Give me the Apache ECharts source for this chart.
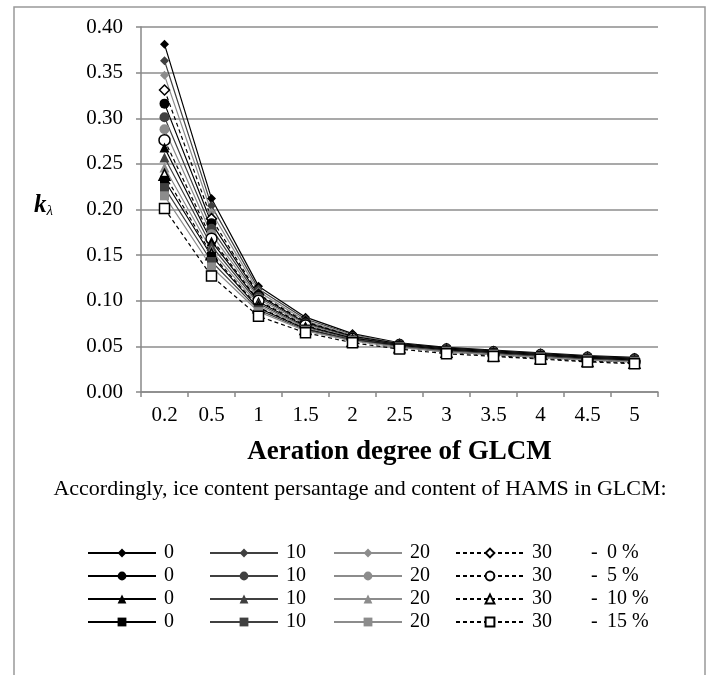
<!DOCTYPE html>
<html>
<head>
<meta charset="utf-8">
<script src="https://cdn.jsdelivr.net/npm/echarts@6/dist/echarts.min.js"></script>
<style>
  html, body { margin: 0; padding: 0; background: #fff; }
  #chart { width: 709px; height: 675px; }
</style>
</head>
<body>
<div id="chart"></div>
<script>
// categories on the x axis (aeration degree)
const categories = ['0.2', '0.5', '1', '1.5', '2', '2.5', '3', '3.5', '4', '4.5', '5'];
const iceLevels = ['0', '10', '20', '30'];
const hamsLevels = ['0 %', '5 %', '10 %', '15 %'];

// HAMS 0 % (diamond)
const ice0_h0  = [0.381, 0.212, 0.116, 0.082, 0.064, 0.054, 0.049, 0.046, 0.043, 0.040, 0.038];
const ice10_h0 = [0.363, 0.204, 0.113, 0.080, 0.063, 0.053, 0.048, 0.045, 0.042, 0.039, 0.037];
const ice20_h0 = [0.347, 0.197, 0.110, 0.078, 0.062, 0.053, 0.047, 0.044, 0.041, 0.038, 0.036];
const ice30_h0 = [0.331, 0.190, 0.107, 0.077, 0.061, 0.051, 0.045, 0.042, 0.039, 0.036, 0.034];
// HAMS 5 % (circle)
const ice0_h5  = [0.316, 0.185, 0.106, 0.076, 0.061, 0.053, 0.048, 0.045, 0.042, 0.039, 0.037];
const ice10_h5 = [0.301, 0.179, 0.104, 0.075, 0.060, 0.052, 0.047, 0.044, 0.041, 0.038, 0.036];
const ice20_h5 = [0.288, 0.173, 0.102, 0.074, 0.059, 0.051, 0.046, 0.043, 0.040, 0.037, 0.035];
const ice30_h5 = [0.276, 0.168, 0.100, 0.073, 0.058, 0.050, 0.044, 0.041, 0.038, 0.035, 0.033];
// HAMS 10 % (triangle)
const ice0_h10  = [0.268, 0.165, 0.099, 0.072, 0.059, 0.052, 0.047, 0.044, 0.041, 0.038, 0.036];
const ice10_h10 = [0.257, 0.160, 0.097, 0.071, 0.058, 0.051, 0.046, 0.043, 0.040, 0.037, 0.035];
const ice20_h10 = [0.246, 0.155, 0.095, 0.070, 0.057, 0.050, 0.045, 0.042, 0.039, 0.036, 0.034];
const ice30_h10 = [0.238, 0.151, 0.093, 0.069, 0.056, 0.049, 0.044, 0.040, 0.037, 0.034, 0.032];
// HAMS 15 % (square)
const ice0_h15  = [0.232, 0.149, 0.092, 0.069, 0.057, 0.051, 0.046, 0.043, 0.040, 0.037, 0.035];
const ice10_h15 = [0.224, 0.143, 0.090, 0.068, 0.057, 0.050, 0.045, 0.042, 0.039, 0.036, 0.034];
const ice20_h15 = [0.215, 0.137, 0.088, 0.067, 0.056, 0.049, 0.044, 0.041, 0.038, 0.035, 0.033];
const ice30_h15 = [0.201, 0.127, 0.083, 0.065, 0.054, 0.047, 0.042, 0.039, 0.036, 0.033, 0.031];

// rows = HAMS level, cols = ice level
const seriesData = [
  [ice0_h0, ice10_h0, ice20_h0, ice30_h0],
  [ice0_h5, ice10_h5, ice20_h5, ice30_h5],
  [ice0_h10, ice10_h10, ice20_h10, ice30_h10],
  [ice0_h15, ice10_h15, ice20_h15, ice30_h15]
];

// styles
const font = '"Liberation Serif", "Times New Roman", serif';
const lineColors = ['#000000', '#404040', '#8c8c8c', '#000000'];
const fillColors = ['#000000', '#404040', '#8c8c8c', '#ffffff'];
const symbols = ['diamond', 'circle', 'triangle', 'rect'];
const symbolSizes = [9, 10, 10, 9];

const chart = echarts.init(document.getElementById('chart'));

const series = [];
const legendCols = [[], [], [], []];
hamsLevels.forEach((h, hi) => {
  iceLevels.forEach((ice, ii) => {
    const name = ice + '|' + h;
    legendCols[ii].push(name);
    series.push({
      name: name,
      type: 'line',
      data: seriesData[hi][ii],
      symbol: symbols[hi],
      symbolSize: ii === 3 ? symbolSizes[hi] + 1 : symbolSizes[hi],
      showAllSymbol: true,
      animation: false,
      lineStyle: {
        color: lineColors[ii],
        width: 1.2,
        type: ii === 3 ? [4, 3] : 'solid'
      },
      itemStyle: {
        color: fillColors[ii],
        borderColor: ii === 3 ? '#000' : fillColors[ii],
        borderWidth: ii === 3 ? 1.5 : 0
      },
      emphasis: { disabled: true }
    });
  });
});

const legendLeft = [82, 204, 328, 450];
const legends = legendLeft.map((left, i) => ({
  orient: 'vertical',
  left: left,
  top: 538,
  itemWidth: 68,
  itemHeight: 11,
  itemGap: 3,
  selectedMode: false,
  data: legendCols[i],
  formatter: n => n.split('|')[0],
  textStyle: { fontFamily: font, fontSize: 20, color: '#000', padding: [0, 0, 0, 3] }
}));

const hamsTexts = [];
hamsLevels.forEach((h, i) => {
  hamsTexts.push({
    type: 'text', x: 591, y: 553 + i * 23,
    style: { text: '-', font: '20px ' + font, fill: '#000', textVerticalAlign: 'middle' }
  });
  hamsTexts.push({
    type: 'text', x: 607, y: 553 + i * 23,
    style: { text: h, font: '20px ' + font, fill: '#000', textVerticalAlign: 'middle' }
  });
});

chart.setOption({
  backgroundColor: '#fff',
  animation: false,
  grid: { left: 141, top: 27, right: 51, bottom: 283 },
  xAxis: {
    type: 'category',
    data: categories,
    boundaryGap: true,
    name: 'Aeration degree of GLCM',
    nameLocation: 'middle',
    nameGap: 47,
    nameTextStyle: { fontFamily: font, fontSize: 27, fontWeight: 'bold', color: '#000' },
    axisLine: { lineStyle: { color: '#888', width: 1.5 } },
    axisTick: { show: true, length: 5, lineStyle: { color: '#888', width: 1.5 } },
    axisLabel: { fontFamily: font, fontSize: 21, color: '#000', margin: 13 }
  },
  yAxis: {
    type: 'value',
    min: 0,
    max: 0.4,
    interval: 0.05,
    axisLine: { show: true, lineStyle: { color: '#888', width: 1.5 } },
    axisTick: { show: true, length: 5, lineStyle: { color: '#888', width: 1.5 } },
    axisLabel: {
      fontFamily: font, fontSize: 21, color: '#000', margin: 18,
      formatter: v => v.toFixed(2)
    },
    splitLine: { lineStyle: { color: '#8c8c8c', width: 1.5 } }
  },
  legend: legends,
  graphic: [
    {
      type: 'rect',
      shape: { x: 14, y: 7, width: 691, height: 690 },
      style: { fill: 'none', stroke: '#999', lineWidth: 1.5 },
      silent: true
    },
    {
      type: 'text',
      left: 34,
      top: 193,
      style: {
        text: '{k|k}{l|λ}',
        rich: {
          k: { font: 'italic bold 25px ' + font, fill: '#000' },
          l: { font: 'italic 15px ' + font, fill: '#000', padding: [12, 0, 0, 0] }
        }
      }
    },
    {
      type: 'text',
      x: 360,
      y: 489,
      style: {
        text: 'Accordingly, ice content persantage and content of HAMS in GLCM:',
        font: '22px ' + font,
        fill: '#000',
        textAlign: 'center',
        textVerticalAlign: 'middle'
      }
    }
  ].concat(hamsTexts),
  series: series
});
</script>
</body>
</html>
